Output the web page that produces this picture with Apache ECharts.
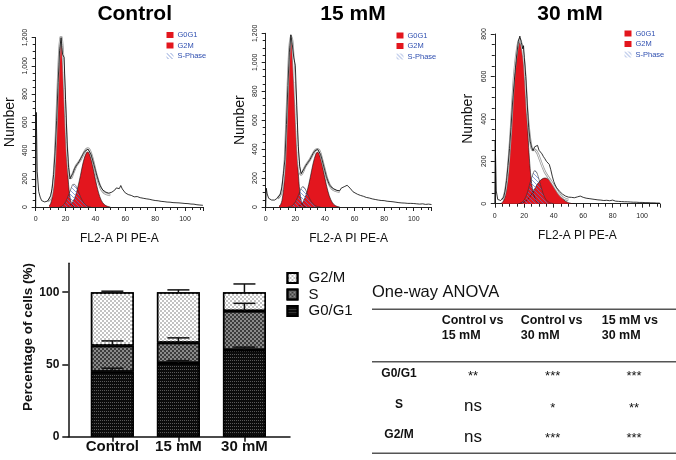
<!DOCTYPE html>
<html><head><meta charset="utf-8">
<script src="https://cdn.jsdelivr.net/npm/echarts@6/dist/echarts.min.js"></script>
<style>html,body{margin:0;padding:0;background:#fff}#c{width:676px;height:460px}</style>
</head><body><div id="c"></div>
<script>
// ---------- Histogram panels (FL2-A PI PE-A, counts) ----------
const panelTitles = ['Control', '15 mM', '30 mM'];
const histLegend = ['G0G1', 'G2M', 'S-Phase'];
const yMaxes = [1200, 1200, 800];

const ctrlHist = [[0,0],[0.4,670],[1,250],[2,110],[3,70],[4,45],[5,38],[6,36],[7,37],[8,42],[9,55],[10,80],[11,130],[12,230],[13,390],[14,610],[15,880],[16,1110],[17,1200],[18,1080],[19,1060],[20,760],[21,460],[22,280],[23,200],[24,205],[25,240],[26,270],[27,290],[28,305],[29,320],[30,340],[31,360],[32,380],[33,395],[34,405],[35,410],[36,400],[37,375],[38,340],[39,300],[40,260],[41,220],[42,185],[43,155],[44,135],[45,120],[46,110],[47,105],[48,100],[49,98],[50,102],[51,105],[52,112],[53,120],[54,135],[55,148],[56,130],[57,152],[58,128],[59,115],[60,100],[62,88],[64,82],[66,72],[68,74],[70,66],[72,62],[74,58],[76,55],[78,50],[80,46],[82,44],[84,40],[86,38],[88,35],[90,34],[92,31],[94,30],[96,29],[98,27],[100,25],[102,24],[104,21],[106,20],[108,16],[110,14],[112,12]];
const ctrlG0G1 = [[9,7],[10,24],[11,67],[12,162],[13,334],[14,584],[15,871],[16,1108],[17,1200],[18,1108],[19,871],[20,584],[21,334],[22,162],[23,67],[24,24],[25,7],[26,0]];
const ctrlG2M = [[22,7],[24,23],[26,60],[28,130],[30,225],[32,325],[34,385],[35,390],[36,375],[38,300],[40,195],[42,105],[44,46],[46,17],[48,5],[50,0]];
const ctrlS = [[16,0],[18,8],[20,35],[22,85],[24,140],[25,160],[26,160],[27,148],[28,125],[30,72],[32,32],[34,10],[36,2],[37,0]];
const ctrlFit = [[8,40],[9,48],[10,62],[11,105],[12,200],[13,370],[14,620],[15,900],[16,1130],[17,1215],[18,1125],[19,900],[20,640],[21,400],[22,260],[23,205],[24,210],[25,240],[26,265],[27,290],[28,305],[29,320],[30,335],[31,355],[32,375],[33,395],[34,410],[35,415],[36,405],[37,380],[38,345],[39,300],[40,255],[41,215],[42,180],[43,150],[44,125],[45,110],[46,100],[48,90],[50,85]];

const m15Hist = [[0,0],[0.4,130],[1,90],[2,60],[3,50],[4,48],[5,47],[6,48],[7,52],[8,62],[9,72],[10,90],[11,140],[12,230],[13,330],[14,570],[15,840],[16,1070],[17,1190],[18,1120],[19,1030],[20,980],[21,700],[22,420],[23,280],[24,230],[25,240],[26,265],[27,285],[28,300],[29,315],[30,330],[31,350],[32,370],[33,385],[34,395],[35,400],[36,390],[37,365],[38,330],[39,290],[40,250],[41,210],[42,180],[43,155],[44,140],[45,130],[46,125],[47,120],[48,115],[49,118],[50,112],[51,130],[52,120],[53,140],[54,135],[55,150],[56,155],[57,130],[58,120],[59,105],[60,95],[62,88],[64,80],[66,74],[68,66],[70,62],[72,56],[74,52],[76,48],[78,45],[80,44],[82,40],[84,38],[86,36],[88,33],[90,30],[92,28],[94,27],[96,25],[98,25],[100,24],[102,22],[104,20],[106,22],[108,18],[110,20],[112,17]];
const m15G0G1 = [[9,5],[10,15],[11,45],[12,120],[13,280],[14,530],[15,800],[16,1030],[17,1145],[17.5,1150],[18,1110],[19,930],[20,700],[21,450],[22,240],[23,110],[24,42],[25,14],[26,4],[27,0]];
const m15G2M = [[22,5],[24,18],[26,50],[28,110],[30,200],[32,300],[34,370],[35,378],[36,370],[38,300],[40,200],[42,110],[44,50],[46,18],[48,5],[50,0]];
const m15S = [[15,0],[17,5],[19,20],[21,55],[23,105],[24,130],[25,140],[26,135],[27,118],[28,95],[30,52],[32,22],[34,7],[36,1],[37,0]];
const m15Fit = [[8,60],[9,70],[10,85],[11,120],[12,200],[13,330],[14,580],[15,850],[16,1080],[17,1180],[18,1140],[19,960],[20,760],[21,520],[22,330],[23,240],[24,225],[25,240],[26,265],[27,285],[28,300],[29,315],[30,330],[31,350],[32,368],[33,385],[34,395],[35,400],[36,392],[37,368],[38,330],[39,290],[40,250],[41,210],[42,180],[43,155],[44,138],[45,125],[46,118],[48,110],[50,105]];

const m30Hist = [[0,0],[0.3,300],[1,60],[2,20],[3,15],[4,15],[5,18],[6,30],[7,60],[8,110],[9,180],[10,260],[11,360],[12,470],[13,560],[14,640],[15,710],[16,765],[17,790],[18,760],[19,730],[19.5,745],[20,690],[21,600],[22,470],[23,360],[24,295],[25,265],[26,250],[27,268],[28,262],[29,275],[30,252],[31,255],[32,235],[33,222],[34,212],[35,200],[36,192],[37,185],[38,160],[39,130],[40,105],[41,88],[42,75],[44,58],[46,45],[48,36],[50,31],[52,30],[54,28],[56,32],[58,36],[60,30],[62,26],[64,24],[66,22],[68,20],[70,18],[72,17],[74,15],[76,16],[78,14],[80,17],[82,12],[84,11],[86,10],[88,9],[90,9],[92,8],[94,7],[96,7],[98,6],[100,6],[102,5],[104,5],[106,4],[108,4],[110,3],[112,3]];
const m30G0G1 = [[4,0],[5,5],[6,15],[7,35],[8,75],[9,140],[10,230],[11,330],[12,460],[13,570],[14,650],[15,705],[16,745],[17,760],[18,745],[19,710],[20,650],[21,530],[22,400],[23,265],[24,165],[25,95],[26,55],[27,30],[28,15],[29,7],[30,3],[31,0]];
const m30G2M = [[16,0],[18,3],[20,8],[22,18],[24,34],[26,56],[28,82],[30,103],[32,116],[34,121],[36,117],[38,104],[40,84],[42,62],[44,41],[46,24],[48,12],[50,5],[52,1],[54,0]];
const m30S = [[17,0],[18,4],[20,18],[22,50],[24,100],[26,142],[27,155],[28,152],[29,138],[30,115],[32,65],[34,28],[36,10],[38,3],[40,0]];
const m30Fit = [[5,20],[6,30],[7,55],[8,100],[9,165],[10,255],[11,355],[12,480],[13,590],[14,665],[15,720],[16,760],[17,775],[18,755],[19,720],[20,665],[21,560],[22,440],[23,360],[24,300],[25,262],[26,253],[27,254],[28,249],[29,238],[30,221],[32,183],[34,150],[36,128],[38,108],[40,86],[42,64],[44,44],[46,30],[48,22],[50,18]];

// ---------- Stacked bar chart (%) ----------
const barCats = ['Control', '15 mM', '30 mM'];
const g0g1Vals = [45, 51, 60];
const sVals = [18, 14, 27];
const g2mVals = [37, 35, 13];
const g0g1Err = [2.4, 1.6, 2.0];
const sErr = [3.3, 3.4, 5.3];
const g2mErr = [0.7, 1.6, 5.7];
const barTicks = [0, 50, 100];

// ---------- ANOVA table ----------
const tableTitle = 'One-way ANOVA';
const tableHead = ['Control vs\n15 mM', 'Control vs\n30 mM', '15 mM vs\n30 mM'];
const tableRows = ['G0/G1', 'S', 'G2/M'];
const tableCells = [['**', '***', '***'], ['ns', '*', '**'], ['ns', '***', '***']];

// ================================================================
const FONT = 'Liberation Sans, Arial, Helvetica, sans-serif';
const RED = '#e3161e';
const hatch = document.createElement('canvas');
hatch.width = 4; hatch.height = 4;
(function(){ const g = hatch.getContext('2d'); g.strokeStyle = '#5a78c8'; g.lineWidth = 0.7;
  g.beginPath(); g.moveTo(-1,-1); g.lineTo(5,5); g.stroke(); })();
const hatchFill = {image: hatch, repeat: 'repeat'};

const panels = [
  {hist: ctrlHist, g01: ctrlG0G1, g2m: ctrlG2M, s: ctrlS, fit: ctrlFit},
  {hist: m15Hist, g01: m15G0G1, g2m: m15G2M, s: m15S, fit: m15Fit},
  {hist: m30Hist, g01: m30G0G1, g2m: m30G2M, s: m30S, fit: m30Fit}
];
const histGrids = [
  {left: 35.7, top: 37.5, width: 167.2, height: 169.5},
  {left: 265.7, top: 33.3, width: 165.8, height: 173.7},
  {left: 494.8, top: 34, width: 165, height: 169.7}
];
const titleX = [129.7, 348, 565];
const nameGaps = [18.5, 19, 20];
const legendPos = [[166.5, 31], [396.5, 31.5], [624.5, 29.5]];

const grid = histGrids.concat([{left: 68.3, top: 263.3, width: 221.7, height: 173.4}]);
const xAxis = [], yAxis = [], series = [], legend = [], title = [];
const ax = '#222';

panels.forEach((p, i) => {
  title.push({text: panelTitles[i], left: titleX[i], top: -1, textAlign: 'center',
    textStyle: {fontFamily: FONT, fontSize: 21, fontWeight: 'bold', color: '#000'}});
  xAxis.push({type: 'value', gridIndex: i, min: 0, max: 112, interval: 20,
    axisLine: {show: true, onZero: false, lineStyle: {color: ax, width: 1}},
    axisTick: {show: true, length: 4, lineStyle: {color: ax}},
    minorTick: {show: true, splitNumber: 4, length: 3, lineStyle: {color: ax}},
    axisLabel: {fontFamily: FONT, fontSize: 7, color: ax, margin: 9, showMaxLabel: false},
    splitLine: {show: false},
    name: 'FL2-A PI PE-A', nameLocation: 'middle', nameGap: 26,
    nameTextStyle: {fontFamily: FONT, fontSize: 12, color: '#111'}});
  yAxis.push({type: 'value', gridIndex: i, min: 0, max: yMaxes[i], interval: 200,
    axisLine: {show: true, onZero: false, lineStyle: {color: ax, width: 1}},
    axisTick: {show: true, length: 4, lineStyle: {color: ax}},
    minorTick: {show: true, splitNumber: 4, length: 3, lineStyle: {color: ax}},
    axisLabel: {fontFamily: FONT, fontSize: 7, color: ax, margin: 7.5, rotate: 90},
    splitLine: {show: false},
    name: 'Number', nameLocation: 'middle', nameGap: nameGaps[i],
    nameTextStyle: {fontFamily: FONT, fontSize: 14, color: '#111'}});
  const base = {type: 'line', xAxisIndex: i, yAxisIndex: i, symbol: 'none', silent: true};
  series.push(Object.assign({}, base, {name: 'G0G1', data: p.g01, smooth: 0.3, z: 2,
    itemStyle: {color: RED}, lineStyle: {color: '#111', width: 0.6}, areaStyle: {color: RED, opacity: 1}}));
  series.push(Object.assign({}, base, {name: 'G2M', data: p.g2m, smooth: 0.35, z: 2,
    itemStyle: {color: RED}, lineStyle: {color: '#111', width: 0.6}, areaStyle: {color: RED, opacity: 1}}));
  series.push(Object.assign({}, base, {name: 'S-Phase', data: p.s, smooth: 0.35, z: 3,
    itemStyle: {color: '#2b4aa3'}, lineStyle: {color: '#333', width: 0.6}, areaStyle: {color: hatchFill, opacity: 1}}));
  series.push(Object.assign({}, base, {name: 'fit', data: p.fit, smooth: 0.3, z: 4,
    lineStyle: {color: '#9a9a9a', width: 2.4}}));
  series.push(Object.assign({}, base, {name: 'fitIn', data: p.fit, smooth: 0.3, z: 4,
    lineStyle: {color: '#ffffff', width: 0.9}}));
  series.push(Object.assign({}, base, {name: 'data', data: p.hist, z: 5,
    lineStyle: {color: '#000', width: 0.8}}));
  legend.push({orient: 'vertical', left: legendPos[i][0], top: legendPos[i][1], padding: 0,
    itemWidth: 7, itemHeight: 6, itemGap: 2.5, selectedMode: false,
    textStyle: {fontFamily: FONT, fontSize: 7.5, color: '#2f4fb0', lineHeight: 7, padding: [0,0,0,-1]},
    data: [
      {name: histLegend[0], icon: 'rect', itemStyle: {color: RED, borderWidth: 0}},
      {name: histLegend[1], icon: 'rect', itemStyle: {color: RED, borderWidth: 0}},
      {name: histLegend[2], icon: 'rect', itemStyle: {color: hatchFill, borderWidth: 0}}
    ]});
});

// bar chart axes
xAxis.push({type: 'value', gridIndex: 3, min: -0.667, max: 2.69,
  axisLine: {show: true, onZero: false, lineStyle: {color: '#111', width: 1.5}},
  axisTick: {show: true, customValues: [0, 1, 2], length: 5, lineStyle: {color: '#111', width: 1.5}},
  axisLabel: {customValues: [0, 1, 2], formatter: v => barCats[Math.round(v)], fontFamily: FONT,
    fontSize: 15, fontWeight: 'bold', color: '#111', margin: 3},
  splitLine: {show: false}});
yAxis.push({type: 'value', gridIndex: 3, min: 0, max: 120,
  axisLine: {show: true, onZero: false, lineStyle: {color: '#111', width: 1.5}},
  axisTick: {show: true, customValues: barTicks, length: 6, lineStyle: {color: '#111', width: 1.5}},
  axisLabel: {customValues: barTicks, fontFamily: FONT, fontSize: 12, fontWeight: 'bold', color: '#111', margin: 9},
  splitLine: {show: false}});

const checker = (c) => ({symbol: 'rect', symbolSize: 1, color: c, dashArrayX: [[2, 2], [0, 2, 2, 0]], dashArrayY: [2, 0], rotation: 0});
// data as [value, position] with encode so that the value column is the one stacked
const barBase = {type: 'bar', xAxisIndex: 3, yAxisIndex: 3, stack: 'cells', barWidth: 43, silent: true,
  encode: {x: 1, y: 0}};
series.push(Object.assign({}, barBase, {name: 'G0/G1', data: g0g1Vals.map((v, i) => [v, i]),
  itemStyle: {color: '#0c0c0c', borderColor: '#000', borderWidth: 1.5,
    decal: {symbol: 'rect', symbolSize: 1, color: '#5a5a5a', dashArrayX: [1, 1], dashArrayY: [1, 2], rotation: 0}}}));
series.push(Object.assign({}, barBase, {name: 'S', data: sVals.map((v, i) => [v, i]),
  itemStyle: {color: '#8a8a8a', borderColor: '#000', borderWidth: 1.5, decal: checker('#3c3c3c')}}));
series.push(Object.assign({}, barBase, {name: 'G2/M', data: g2mVals.map((v, i) => [v, i]),
  itemStyle: {color: '#ffffff', borderColor: '#000', borderWidth: 1.5, decal: checker('#c2c2c2')}}));

// error bars (upper), built from the values above
const errData = [];
g0g1Vals.forEach((v, i) => {
  errData.push([i, v, g0g1Err[i]]);
  errData.push([i, v + sVals[i], sErr[i]]);
  errData.push([i, v + sVals[i] + g2mVals[i], g2mErr[i]]);
});
series.push({type: 'custom', xAxisIndex: 3, yAxisIndex: 3, z: 10, silent: true, data: errData,
  renderItem: (params, api) => {
    const x = api.value(0), y = api.value(1), e = api.value(2);
    const p0 = api.coord([x, y]), p1 = api.coord([x, y + e]);
    const st = {stroke: '#111', lineWidth: 1.5};
    return {type: 'group', children: [
      {type: 'line', shape: {x1: p0[0], y1: p0[1], x2: p1[0], y2: p1[1]}, style: st},
      {type: 'line', shape: {x1: p1[0] - 11, y1: p1[1], x2: p1[0] + 11, y2: p1[1]}, style: st}
    ]};
  }});

legend.push({orient: 'vertical', left: 286.5, top: 270.5, padding: 0, itemWidth: 10, itemHeight: 10,
  itemGap: 1.5, selectedMode: false, icon: 'rect',
  textStyle: {fontFamily: FONT, fontSize: 15, color: '#111', lineHeight: 15, padding: [0, 0, 0, 6]},
  data: ['G2/M', 'S', 'G0/G1']});

// table & labels as graphic elements
const graphic = [];
const txt = (text, x, y, size, weight, align, extra) => Object.assign({type: 'text', x: x, y: y,
  style: {text: text, x: 0, y: 0, fill: '#111', font: weight + ' ' + size + 'px ' + FONT,
    textAlign: align, textVerticalAlign: 'middle'}}, extra || {});
graphic.push(txt('Percentage of cells (%)', 28, 337, 13.5, 'bold', 'center', {rotation: Math.PI / 2}));
graphic.push(txt(tableTitle, 372, 292, 16.5, 'normal', 'left'));
[309.3, 361.7, 453.3].forEach(y => graphic.push({type: 'line',
  shape: {x1: 372, y1: y, x2: 676, y2: y}, style: {stroke: '#555', lineWidth: 1.5}}));
const colLeft = [441.7, 520.7, 601.7];
const colCenter = [473, 552.7, 634];
const rowY = [373.3, 404.5, 435];
tableHead.forEach((h, j) => graphic.push({type: 'text', x: colLeft[j], y: 313.5,
  style: {text: h, x: 0, y: 0, fill: '#111', font: 'bold 12.5px ' + FONT, lineHeight: 15,
    textAlign: 'left', textVerticalAlign: 'top'}}));
tableRows.forEach((r, k) => {
  graphic.push(txt(r, 399, rowY[k], 12, 'bold', 'center'));
  tableCells[k].forEach((c, j) => {
    if (c === 'ns') graphic.push(txt(c, colCenter[j], rowY[k] + 2, 17, 'normal', 'center'));
    else graphic.push(txt(c, colCenter[j], rowY[k] + 3.5, 13, 'normal', 'center'));
  });
});

const chart = echarts.init(document.getElementById('c'));
chart.setOption({
  animation: false,
  backgroundColor: '#fff',
  textStyle: {fontFamily: FONT},
  title: title,
  grid: grid,
  xAxis: xAxis,
  yAxis: yAxis,
  legend: legend,
  series: series,
  graphic: graphic
});
</script></body></html>
